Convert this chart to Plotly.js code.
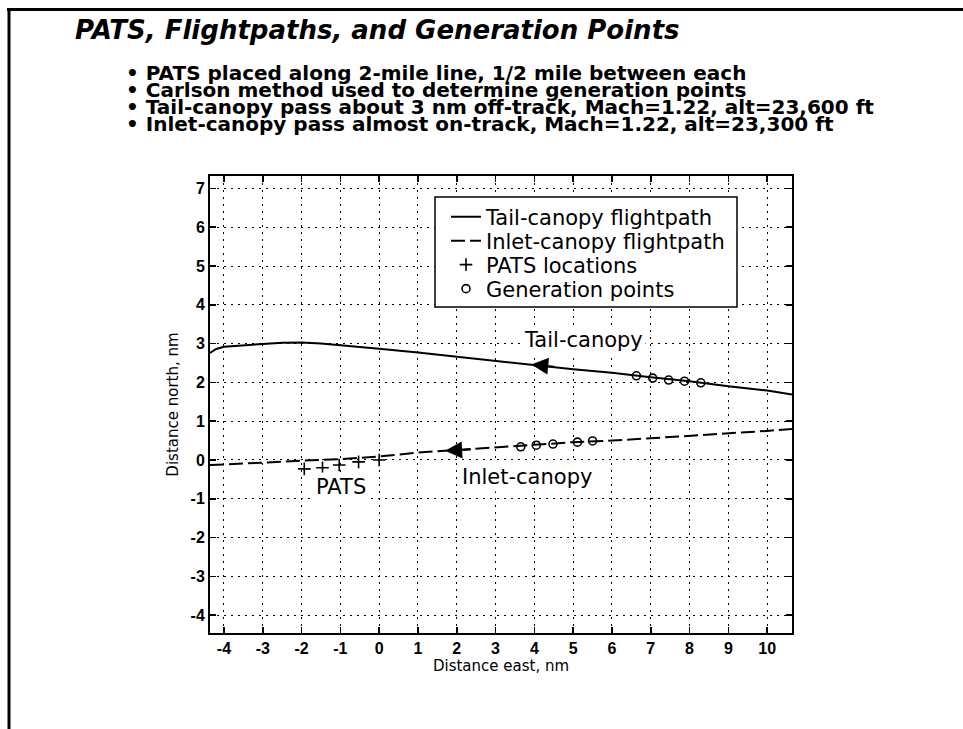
<!DOCTYPE html>
<html><head><meta charset="utf-8">
<script src="https://cdn.plot.ly/plotly-3.0.1.min.js"></script>
<style>html,body{margin:0;padding:0;background:#fff}#chart{width:963px;height:729px}</style>
</head><body><div id="chart"></div>
<script>
// ---- data (nm) ----
const tailX = [-4.36, -4.2, -4, -3.5, -3, -2.5, -2, -1.5, -1, -0.5, 0, 1, 2, 3, 4, 5, 6, 7, 8, 9, 10, 10.64];
const tailY = [2.76, 2.86, 2.92, 2.96, 2.99, 3.02, 3.03, 3.0, 2.96, 2.91, 2.87, 2.77, 2.66, 2.55, 2.45, 2.34, 2.25, 2.13, 2.03, 1.9, 1.79, 1.69];
const inletX = [-4.36, -4, -3, -2, -1, 0, 1, 2, 3, 4, 5, 6, 7, 8, 9, 10, 10.64];
const inletY = [-0.13, -0.11, -0.07, -0.02, 0.02, 0.09, 0.19, 0.26, 0.32, 0.39, 0.46, 0.50, 0.56, 0.62, 0.69, 0.75, 0.80];
const patsX = [-1.93, -1.46, -1.03, -0.53, 0.0];
const patsY = [-0.23, -0.20, -0.13, -0.05, 0.0];
const genTailX = [6.63, 7.05, 7.46, 7.87, 8.29];
const genTailY = [2.17, 2.11, 2.06, 2.03, 1.99];
const genInletX = [3.65, 4.05, 4.48, 5.11, 5.50];
const genInletY = [0.34, 0.38, 0.41, 0.46, 0.49];
const xTicks = [-4, -3, -2, -1, 0, 1, 2, 3, 4, 5, 6, 7, 8, 9, 10];
const yTicks = [-4, -3, -2, -1, 0, 1, 2, 3, 4, 5, 6, 7];
const legendNames = ['Tail-canopy flightpath', 'Inlet-canopy flightpath', 'PATS locations', 'Generation points'];
const titleText = 'PATS, Flightpaths, and Generation Points';
const bulletLines = [
  'PATS placed along 2-mile line, 1/2 mile between each',
  'Carlson method used to determine generation points',
  'Tail-canopy pass about 3 nm off-track, Mach=1.22, alt=23,600 ft',
  'Inlet-canopy pass almost on-track, Mach=1.22, alt=23,300 ft'
];

// ---- geometry helpers (pixel -> paper) ----
const L = 210, R = 792, T = 176, B = 633;
const W = R - L, H = B - T;
const xp = px => (px - L) / W;
const yp = py => (B - py) / H;

const legendIds = ['legend', 'legend2', 'legend3', 'legend4'];
const traces = [
  {x: tailX, y: tailY, mode: 'lines', name: legendNames[0], legend: legendIds[0],
   line: {color: '#000', width: 2}},
  {x: inletX, y: inletY, mode: 'lines', name: legendNames[1], legend: legendIds[1],
   line: {color: '#000', width: 2, dash: '14px,5px'}},
  {x: patsX, y: patsY, mode: 'markers', name: legendNames[2], legend: legendIds[2],
   marker: {symbol: 'cross-thin', size: 9, color: '#000', line: {color: '#000', width: 1.6}}},
  {x: genTailX.concat([null], genInletX), y: genTailY.concat([null], genInletY), mode: 'markers',
   name: legendNames[3], legend: legendIds[3],
   marker: {symbol: 'circle-open', size: 8, color: '#000', line: {color: '#000', width: 1.6}}}
];

const bodyFont = {family: 'DejaVu Sans, Arial, sans-serif', size: 21, color: '#000'};
const annotations = [];
const bulletY = [73, 90, 107, 124];
bulletLines.forEach((t, i) => {
  annotations.push({xref: 'paper', yref: 'paper', x: xp(124), y: yp(bulletY[i]),
    xanchor: 'left', yanchor: 'middle', showarrow: false, text: '\u2022 ' + t,
    font: {family: 'DejaVu Sans, Arial, sans-serif', size: 20, weight: 'bold', color: '#000'}});
});
annotations.push({x: 5.26, y: 3.09, text: 'Tail-canopy', showarrow: false, bgcolor: '#fff', font: bodyFont, borderpad: 2});
annotations.push({x: 3.82, y: -0.43, text: 'Inlet-canopy', showarrow: false, bgcolor: '#fff', font: bodyFont, borderpad: 2});
annotations.push({x: -0.99, y: -0.70, text: 'PATS', showarrow: false, bgcolor: '#fff', font: bodyFont, borderpad: 2});
// direction arrows along the flight paths
annotations.push({x: 3.92, y: 2.46, ax: 4.55, ay: 2.40, axref: 'x', ayref: 'y', text: '', showarrow: true,
  arrowhead: 2, arrowsize: 1.7, arrowwidth: 2, arrowcolor: '#000', standoff: 0, startstandoff: 0});
annotations.push({x: 1.70, y: 0.235, ax: 2.4, ay: 0.275, axref: 'x', ayref: 'y', text: '', showarrow: true,
  arrowhead: 2, arrowsize: 1.7, arrowwidth: 2, arrowcolor: '#000', standoff: 0, startstandoff: 0});

const shapes = [
  // slide frame
  {type: 'line', xref: 'paper', yref: 'paper', x0: xp(7), x1: xp(970), y0: yp(9.5), y1: yp(9.5), line: {color: '#000', width: 3}},
  {type: 'line', xref: 'paper', yref: 'paper', x0: xp(9), x1: xp(9), y0: yp(8), y1: yp(740), line: {color: '#000', width: 3}},
  // legend box
  {type: 'rect', xref: 'paper', yref: 'paper', layer: 'above', x0: xp(435), x1: xp(737), y0: yp(197), y1: yp(307),
   fillcolor: '#fff', line: {color: '#000', width: 1.5}}
];

const axisCommon = {
  showline: true, linecolor: '#000', linewidth: 2, mirror: 'ticks',
  ticks: 'inside', ticklen: 6, tickwidth: 1.5, tickcolor: '#000',
  showgrid: true, gridcolor: '#000', gridwidth: 1, griddash: '2px,5px',
  zeroline: false, tickmode: 'array',
  tickfont: {family: 'Liberation Sans, Arial, sans-serif', size: 16, weight: 'bold', color: '#000'}
};

const legendRowY = [217, 241, 265, 289];
const legendX = 446;

const layout = {
  width: 963, height: 729,
  paper_bgcolor: '#fff', plot_bgcolor: '#fff',
  margin: {l: L, r: 963 - R, t: T, b: 729 - B, pad: 0},
  title: {text: titleText, xref: 'container', yref: 'container', x: 75 / 963, y: 1 - 30 / 729,
    xanchor: 'left', yanchor: 'middle',
    font: {family: 'DejaVu Sans, Arial, sans-serif', size: 26, weight: 'bold', style: 'italic', color: '#000'}},
  xaxis: Object.assign({}, axisCommon, {range: [-4.36, 10.64], tickvals: xTicks, ticktext: xTicks.map(String),
    title: {text: 'Distance east, nm', standoff: 0, font: {family: 'DejaVu Sans, Arial, sans-serif', size: 15, color: '#000'}},
    automargin: true}),
  yaxis: Object.assign({}, axisCommon, {range: [-4.46, 7.32], tickvals: yTicks, ticktext: yTicks.map(String),
    title: {text: 'Distance north, nm', standoff: 8, font: {family: 'DejaVu Sans, Arial, sans-serif', size: 15, color: '#000'}},
    automargin: true}),
  showlegend: true,
  annotations: annotations,
  shapes: shapes
};
legendIds.forEach((id, i) => {
  layout[id] = {x: xp(legendX), y: yp(legendRowY[i]), xanchor: 'left', yanchor: 'middle',
    bgcolor: 'rgba(0,0,0,0)', borderwidth: 0, font: bodyFont};
});

Plotly.newPlot('chart', traces, layout, {displayModeBar: false, staticPlot: true});
</script>
</body></html>
